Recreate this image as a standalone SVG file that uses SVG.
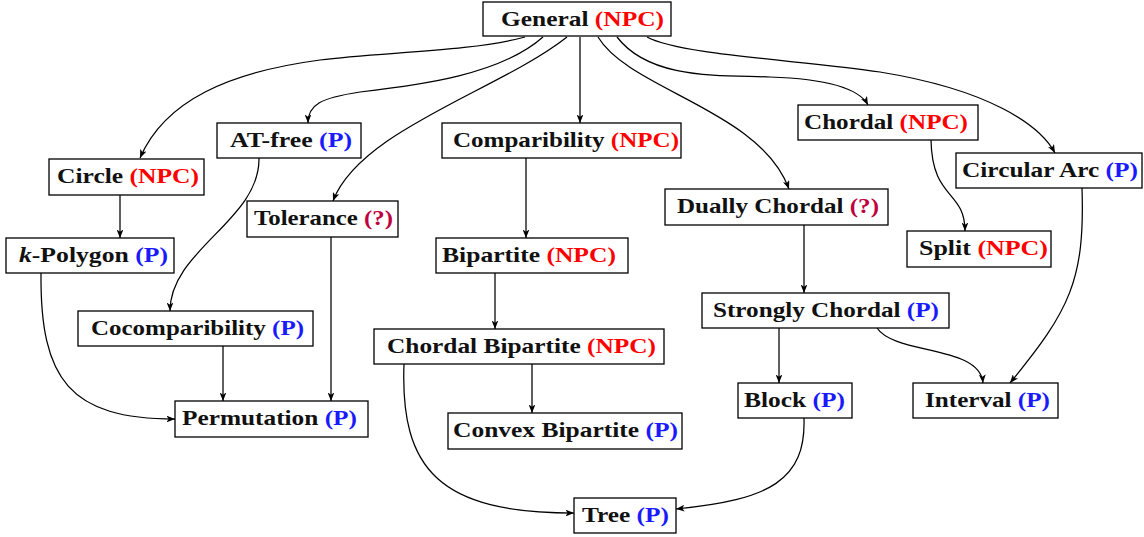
<svg xmlns="http://www.w3.org/2000/svg" width="1144" height="537" viewBox="0 0 1144 537">
<style>
.box{fill:#fff;stroke:#000;stroke-width:1.3}
.lbl{font-family:"Liberation Serif","Times New Roman",serif;font-weight:bold;font-size:21px;fill:#111}
.r{fill:#ff0000}
.b{fill:#1a1aff}
.q{fill:#bf0040}
.e{fill:none;stroke:#000;stroke-width:1.25;marker-end:url(#ah)}
</style>
<defs>
<marker id="ah" viewBox="0 0 10 8" refX="10" refY="4" markerWidth="8.5" markerHeight="6.8" orient="auto" markerUnits="userSpaceOnUse">
<path d="M0,0 L10,4 L0,8 L2.5,4 z" fill="#000"/>
</marker>
</defs>
<rect width="1144" height="537" fill="#fff"/>
<g id="connectors">
<path class="e" d="M525,37 C470,52 380,52 320,60 C230,72 165,100 140,158"/>
<path class="e" d="M543,37 C500,75 420,85 360,92 C320,98 308,105 308,123"/>
<path class="e" d="M567,37 C500,90 360,130 333,201"/>
<path class="e" d="M580,37 L580,123"/>
<path class="e" d="M598,37 C630,90 760,110 789,189"/>
<path class="e" d="M617,37 C650,80 720,75 770,77 C830,79 860,90 868,105"/>
<path class="e" d="M647,37 C680,55 800,60 880,72 C990,90 1040,125 1055,153"/>
<path class="e" d="M120,195 L120,238"/>
<path class="e" d="M259,158 C260,220 170,250 170,311"/>
<path class="e" d="M331,237 L331,401"/>
<path class="e" d="M41,273 C40,380 70,419 175,419"/>
<path class="e" d="M223,346 L223,401"/>
<path class="e" d="M526,158 L526,238"/>
<path class="e" d="M495,273 L495,329"/>
<path class="e" d="M532,364 L532,413"/>
<path class="e" d="M404,364 C400,470 440,513 574,513"/>
<path class="e" d="M804,418 C806,480 770,500 676,509"/>
<path class="e" d="M804,225 L804,293"/>
<path class="e" d="M779,328 L779,383"/>
<path class="e" d="M877,328 C895,355 980,345 983,383"/>
<path class="e" d="M931,140 C932,200 965,190 965,231"/>
<path class="e" d="M1082,188 C1085,280 1070,310 1010,383"/>
</g>
<g id="general"><rect class="box" x="483" y="2" width="188" height="34"/><text class="lbl" x="501" y="26" textLength="163" lengthAdjust="spacingAndGlyphs">General <tspan class="r">(NPC)</tspan></text></g>
<g id="circle"><rect class="box" x="49" y="159" width="155" height="36"/><text class="lbl" x="57" y="183" textLength="142" lengthAdjust="spacingAndGlyphs">Circle <tspan class="r">(NPC)</tspan></text></g>
<g id="atfree"><rect class="box" x="217" y="123" width="144" height="35"/><text class="lbl" x="230" y="147" textLength="122" lengthAdjust="spacingAndGlyphs">AT-free <tspan class="b">(P)</tspan></text></g>
<g id="tolerance"><rect class="box" x="247" y="201" width="151" height="36"/><text class="lbl" x="254" y="225" textLength="139" lengthAdjust="spacingAndGlyphs">Tolerance <tspan class="q">(?)</tspan></text></g>
<g id="kpolygon"><rect class="box" x="6" y="238" width="168" height="35"/><text class="lbl" x="19" y="262" textLength="149" lengthAdjust="spacingAndGlyphs"><tspan font-style="italic">k</tspan>-Polygon <tspan class="b">(P)</tspan></text></g>
<g id="comparibility"><rect class="box" x="442" y="123" width="239" height="35"/><text class="lbl" x="453" y="147" textLength="226" lengthAdjust="spacingAndGlyphs">Comparibility <tspan class="r">(NPC)</tspan></text></g>
<g id="bipartite"><rect class="box" x="436" y="238" width="192" height="35"/><text class="lbl" x="442" y="262" textLength="174" lengthAdjust="spacingAndGlyphs">Bipartite <tspan class="r">(NPC)</tspan></text></g>
<g id="chordal"><rect class="box" x="798" y="105" width="180" height="35"/><text class="lbl" x="804" y="129" textLength="164" lengthAdjust="spacingAndGlyphs">Chordal <tspan class="r">(NPC)</tspan></text></g>
<g id="circulararc"><rect class="box" x="956" y="153" width="186" height="35"/><text class="lbl" x="962" y="177" textLength="176" lengthAdjust="spacingAndGlyphs">Circular Arc <tspan class="b">(P)</tspan></text></g>
<g id="duallychordal"><rect class="box" x="665" y="189" width="223" height="36"/><text class="lbl" x="677" y="213" textLength="202" lengthAdjust="spacingAndGlyphs">Dually Chordal <tspan class="q">(?)</tspan></text></g>
<g id="split"><rect class="box" x="907" y="231" width="144" height="36"/><text class="lbl" x="919" y="255" textLength="129" lengthAdjust="spacingAndGlyphs">Split <tspan class="r">(NPC)</tspan></text></g>
<g id="cocomparibility"><rect class="box" x="78" y="311" width="235" height="35"/><text class="lbl" x="91" y="335" textLength="213" lengthAdjust="spacingAndGlyphs">Cocomparibility <tspan class="b">(P)</tspan></text></g>
<g id="permutation"><rect class="box" x="175" y="401" width="193" height="36"/><text class="lbl" x="182" y="425" textLength="175" lengthAdjust="spacingAndGlyphs">Permutation <tspan class="b">(P)</tspan></text></g>
<g id="chordalbipartite"><rect class="box" x="374" y="329" width="290" height="35"/><text class="lbl" x="387" y="353" textLength="269" lengthAdjust="spacingAndGlyphs">Chordal Bipartite <tspan class="r">(NPC)</tspan></text></g>
<g id="convexbipartite"><rect class="box" x="448" y="413" width="234" height="36"/><text class="lbl" x="453" y="437" textLength="225" lengthAdjust="spacingAndGlyphs">Convex Bipartite <tspan class="b">(P)</tspan></text></g>
<g id="stronglychordal"><rect class="box" x="702" y="293" width="247" height="35"/><text class="lbl" x="713" y="317" textLength="226" lengthAdjust="spacingAndGlyphs">Strongly Chordal <tspan class="b">(P)</tspan></text></g>
<g id="block"><rect class="box" x="738" y="383" width="114" height="35"/><text class="lbl" x="744" y="407" textLength="101" lengthAdjust="spacingAndGlyphs">Block <tspan class="b">(P)</tspan></text></g>
<g id="interval"><rect class="box" x="913" y="383" width="145" height="35"/><text class="lbl" x="925" y="407" textLength="125" lengthAdjust="spacingAndGlyphs">Interval <tspan class="b">(P)</tspan></text></g>
<g id="tree"><rect class="box" x="574" y="498" width="102" height="35"/><text class="lbl" x="582" y="522" textLength="87" lengthAdjust="spacingAndGlyphs">Tree <tspan class="b">(P)</tspan></text></g>
</svg>
